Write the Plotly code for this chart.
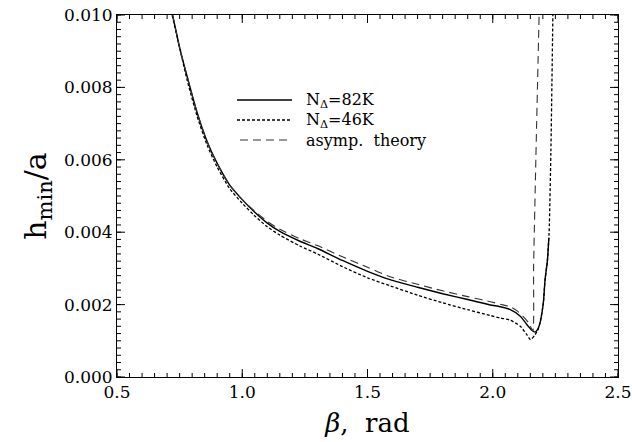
import plotly.graph_objects as go

# N_Delta = 82K (solid)
beta_82 = [0.722, 0.75, 0.78, 0.82, 0.86, 0.90, 0.95, 1.00, 1.05, 1.10, 1.15, 1.23, 1.30,
           1.40, 1.50, 1.59, 1.70, 1.80, 1.90, 1.99, 2.03, 2.07, 2.11, 2.136, 2.155, 2.169,
           2.18, 2.189, 2.202, 2.209, 2.218, 2.224]
h_82 = [0.0100, 0.0091, 0.0083, 0.0073, 0.0065, 0.0059, 0.0053, 0.0049, 0.00455, 0.00425,
        0.00402, 0.00375, 0.00355, 0.00322, 0.00292, 0.00269, 0.00248, 0.00230, 0.00214,
        0.00199, 0.00194, 0.00186, 0.00168, 0.00145, 0.00130, 0.00124, 0.00132, 0.00150,
        0.00205, 0.00270, 0.00320, 0.00385]

# N_Delta = 46K (dotted)
beta_46 = [0.720, 0.75, 0.78, 0.82, 0.86, 0.90, 0.95, 1.00, 1.05, 1.10, 1.15, 1.23, 1.30,
           1.40, 1.50, 1.59, 1.70, 1.80, 1.90, 1.99, 2.03, 2.07, 2.11, 2.136, 2.151, 2.169,
           2.18, 2.189, 2.202, 2.209, 2.218, 2.225, 2.232, 2.240]
h_46 = [0.0100, 0.0091, 0.0082, 0.0072, 0.0064, 0.0058, 0.0052, 0.0048, 0.00445, 0.00415,
        0.00392, 0.00362, 0.00340, 0.00305, 0.00274, 0.00252, 0.00226, 0.00205, 0.00186,
        0.00170, 0.00163, 0.00157, 0.00140, 0.00117, 0.00103, 0.00117, 0.00130, 0.00150,
        0.00205, 0.00270, 0.00320, 0.00400, 0.00620, 0.0100]

# asymptotic theory (dashed)
beta_as = [0.722, 0.75, 0.78, 0.82, 0.86, 0.90, 0.95, 1.00, 1.05, 1.10, 1.15, 1.23, 1.30,
           1.40, 1.50, 1.59, 1.70, 1.80, 1.90, 1.99, 2.03, 2.07, 2.095, 2.12, 2.145, 2.160,
           2.163, 2.172, 2.185]
h_as = [0.0100, 0.0091, 0.0083, 0.0073, 0.0065, 0.0059, 0.0053, 0.0049, 0.00458, 0.00430,
        0.00408, 0.00382, 0.00363, 0.00332, 0.00303, 0.00277, 0.00256, 0.00238, 0.00222,
        0.00208, 0.00201, 0.00194, 0.00184, 0.00168, 0.00148, 0.00127, 0.0030, 0.0060, 0.0100]

series_names = ["N<sub>Δ</sub>=82K", "N<sub>Δ</sub>=46K", "asymp.  theory"]

# axis ticks
x_major = [0.5, 1.0, 1.5, 2.0, 2.5]
x_labels = ["0.5", "1.0", "1.5", "2.0", "2.5"]
y_major = [0.000, 0.002, 0.004, 0.006, 0.008, 0.010]
y_labels = ["0.000", "0.002", "0.004", "0.006", "0.008", "0.010"]
X_RANGE = [0.5, 2.5]
Y_RANGE = [0.0, 0.010]
x_minor = [round(0.5 + 0.05 * i, 3) for i in range(41)]
y_minor = [round(0.0002 * i, 5) for i in range(51)]

FONT = "DejaVu Serif"

styles = [
    dict(color="black", width=1.4),
    dict(color="black", width=1.3, dash="3px,2px"),
    dict(color="#333", width=1.1, dash="8px,5px"),
]

fig = go.Figure()
for (bx, hy), st in zip([(beta_82, h_82), (beta_46, h_46), (beta_as, h_as)], styles):
    fig.add_trace(go.Scatter(x=bx, y=hy, mode="lines", showlegend=False,
                             line=dict(shape="spline", smoothing=0.6, **st)))

# tick marks on all four sides (inside), sized in pixels
tick_line = dict(color="black", width=1)
for xs, ln in [(x_minor, 4), (x_major, 8)]:
    for t in xs:
        fig.add_shape(type="line", xref="x", yref="y", ysizemode="pixel", yanchor=Y_RANGE[0],
                      x0=t, x1=t, y0=0, y1=ln, line=tick_line)
        fig.add_shape(type="line", xref="x", yref="y", ysizemode="pixel", yanchor=Y_RANGE[1],
                      x0=t, x1=t, y0=0, y1=-ln, line=tick_line)
for ys, ln in [(y_minor, 4), (y_major, 8)]:
    for t in ys:
        fig.add_shape(type="line", xref="x", yref="y", xsizemode="pixel", xanchor=X_RANGE[0],
                      y0=t, y1=t, x0=0, x1=ln, line=tick_line)
        fig.add_shape(type="line", xref="x", yref="y", xsizemode="pixel", xanchor=X_RANGE[1],
                      y0=t, y1=t, x0=0, x1=-ln, line=tick_line)

# manual legend (paper coords)
L, T, W, H = 117, 15, 501, 362
def px(xp): return (xp - L) / W
def py(yp): return (T + H - yp) / H
rows = [100, 120, 140]
starts = [237, 237, 240]
for name, st, yr, xs in zip(series_names, styles, rows, starts):
    fig.add_shape(type="line", xref="paper", yref="paper",
                  x0=px(xs), x1=px(292), y0=py(yr), y1=py(yr),
                  line=dict(color=st["color"], width=st["width"], dash=st.get("dash", "solid")))
    fig.add_annotation(xref="paper", yref="paper", x=px(304), y=py(yr),
                       xanchor="left", yanchor="middle", showarrow=False,
                       text=name, font=dict(family=FONT, size=16, color="black"))

common = dict(showline=True, linecolor="black", linewidth=1, mirror=True, ticks="",
              showgrid=False, zeroline=False, automargin=False,
              tickfont=dict(family=FONT, size=17, color="black"))

fig.update_layout(
    xaxis=dict(range=X_RANGE, tickmode="array", tickvals=x_major, ticktext=x_labels,
               title=dict(text="<i>β</i>,  rad", font=dict(family=FONT, size=26, color="black"),
                          standoff=12), **common),
    yaxis=dict(range=Y_RANGE, tickmode="array", tickvals=y_major, ticktext=y_labels,
               title=dict(text="h<sub>min</sub>/a", font=dict(family=FONT, size=30, color="black"),
                          standoff=8), **common),
    width=632, height=442,
    margin=dict(l=117, r=14, t=15, b=65),
    plot_bgcolor="white", paper_bgcolor="white",
    showlegend=False,
)

fig.write_html("out.html")
